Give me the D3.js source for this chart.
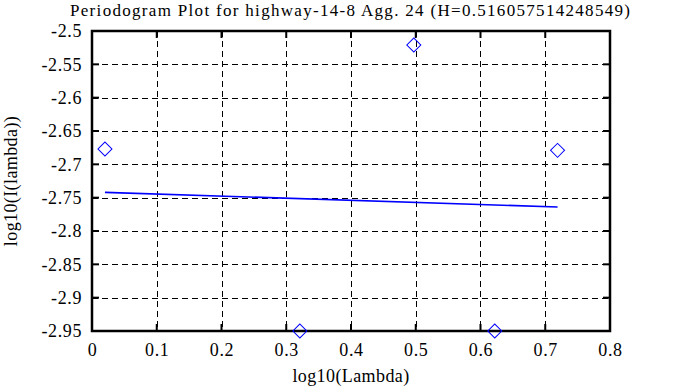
<!DOCTYPE html>
<html>
<head>
<meta charset="utf-8">
<script src="https://cdn.jsdelivr.net/npm/d3@7"></script>
<style>
html,body{margin:0;padding:0;background:#fff;}
svg text{font-family:"Liberation Serif","Times New Roman",serif !important;fill:#000;}
</style>
</head>
<body>
<svg id="chart" width="673" height="387"></svg>
<script>
const title = "Periodogram Plot for highway-14-8 Agg. 24 (H=0.516057514248549)";
const xLabel = "log10(Lambda)";
const yLabel = "log10(I(lambda))";
const pointX = [0.02, 0.321, 0.497, 0.622, 0.719];
const pointY = [-2.677, -2.95, -2.521, -2.95, -2.679];
const fitX = [0.02, 0.719];
const fitY = [-2.742, -2.764];
const xTicks = [0, 0.1, 0.2, 0.3, 0.4, 0.5, 0.6, 0.7, 0.8];
const yTicks = [-2.5, -2.55, -2.6, -2.65, -2.7, -2.75, -2.8, -2.85, -2.9, -2.95];

const svg = d3.select("#chart");
const L = 92, R = 610, T = 31, B = 331;
const x = d3.scaleLinear().domain([0, 0.8]).range([L, R]);
const y = d3.scaleLinear().domain([-2.95, -2.5]).range([B, T]);
const FONT = '"Liberation Serif","Times New Roman",serif';

// grid
const grid = svg.append("g").attr("stroke", "#000").attr("stroke-width", 1).attr("stroke-dasharray", "6,4");
grid.selectAll(".vx").data(xTicks.slice(1, -1)).join("line")
  .attr("x1", d => Math.round(x(d)) + 0.5).attr("x2", d => Math.round(x(d)) + 0.5)
  .attr("y1", T).attr("y2", B);
grid.selectAll(".hy").data(yTicks.slice(1, -1)).join("line")
  .attr("y1", d => Math.round(y(d)) + 0.5).attr("y2", d => Math.round(y(d)) + 0.5)
  .attr("x1", L).attr("x2", R);

// axes
const fmt = d => String(d);
const xAxis = d3.axisBottom(x).tickValues(xTicks).tickSize(0).tickPadding(12).tickFormat(fmt);
const gx = svg.append("g").attr("transform", `translate(0,${B})`).call(xAxis)
  .attr("font-family", FONT).attr("font-size", 18);
gx.select(".domain").remove();
gx.selectAll("text").attr("letter-spacing", 0.6);

const yAxis = d3.axisLeft(y).tickValues(yTicks).tickSize(0).tickPadding(10).tickFormat(fmt);
const gy = svg.append("g").attr("transform", `translate(${L},0)`).call(yAxis)
  .attr("font-family", FONT).attr("font-size", 18);
gy.select(".domain").remove();
gy.selectAll("text").attr("letter-spacing", 0.6);

// inward ticks
const tk = svg.append("g").attr("stroke", "#000").attr("stroke-width", 2);
xTicks.forEach(d => {
  tk.append("line").attr("x1", x(d)).attr("x2", x(d)).attr("y1", B).attr("y2", B - 7);
  tk.append("line").attr("x1", x(d)).attr("x2", x(d)).attr("y1", T).attr("y2", T + 7);
});
yTicks.forEach(d => {
  tk.append("line").attr("y1", y(d)).attr("y2", y(d)).attr("x1", L).attr("x2", L + 7);
  tk.append("line").attr("y1", y(d)).attr("y2", y(d)).attr("x1", R).attr("x2", R - 7);
});

// frame
svg.append("rect").attr("x", L).attr("y", T).attr("width", R - L).attr("height", B - T)
  .attr("fill", "none").attr("stroke", "#000").attr("stroke-width", 2.5);

// fit line
svg.append("path").datum(fitX.map((d, i) => [d, fitY[i]]))
  .attr("d", d3.line().x(d => x(d[0])).y(d => y(d[1])))
  .attr("fill", "none").attr("stroke", "#0000ff").attr("stroke-width", 1.6);

// points (diamonds)
svg.append("g").selectAll("path").data(pointX.map((d, i) => [d, pointY[i]])).join("path")
  .attr("transform", d => `translate(${x(d[0])},${y(d[1])}) rotate(45)`)
  .attr("d", d3.symbol().type(d3.symbolSquare).size(98))
  .attr("fill", "none").attr("stroke", "#0000ff").attr("stroke-width", 1);

// title & labels
svg.append("text").attr("x", 350).attr("y", 16).attr("text-anchor", "middle")
  .attr("font-size", 17).attr("textLength", 560).attr("lengthAdjust", "spacing").text(title);
svg.append("text").attr("x", (L + R) / 2).attr("y", 382).attr("text-anchor", "middle")
  .attr("font-size", 18).attr("letter-spacing", 0.4).text(xLabel);
svg.append("text").attr("transform", `translate(17,${(T + B) / 2}) rotate(-90)`)
  .attr("text-anchor", "middle").attr("font-size", 18).attr("letter-spacing", 0.4).text(yLabel);
</script>
</body>
</html>
